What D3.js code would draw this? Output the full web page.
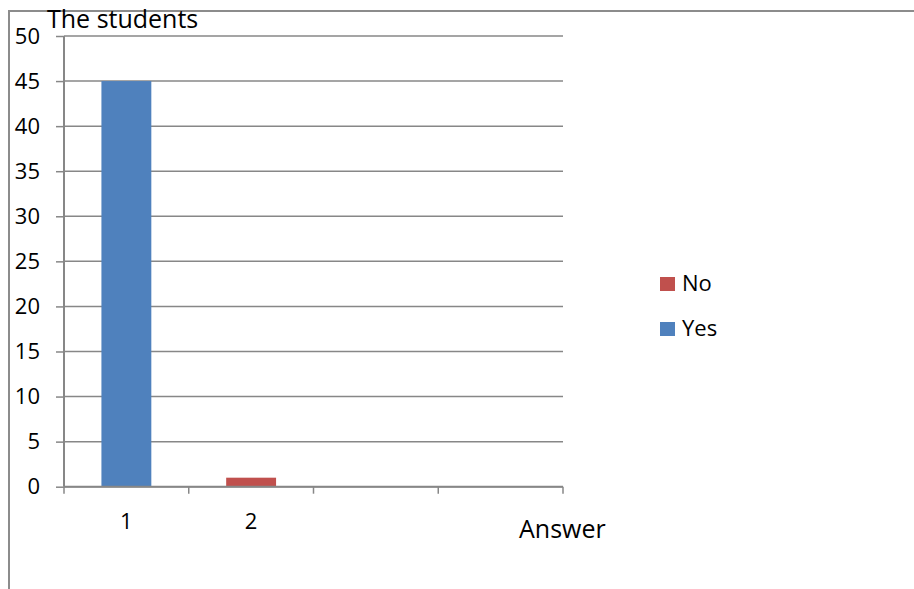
<!DOCTYPE html>
<html>
<head>
<meta charset="utf-8">
<script src="https://cdn.jsdelivr.net/npm/d3@7"></script>
<style>
  html, body { margin: 0; padding: 0; background: #fff; }
  svg { display: block; font-family: "Open Sans", sans-serif; }
</style>
</head>
<body>
<svg id="chart" width="914" height="589"></svg>
<script>
// Survey answers, stacked per category
const categories = ["c1", "c2", "c3", "c4"];
const categoryLabels = ["1", "2", "", ""];
const yesValues = [45, 0, 0, 0];
const noValues = [0, 1, 0, 0];
const yTicks = [0, 5, 10, 15, 20, 25, 30, 35, 40, 45, 50];
const seriesNames = ["Yes", "No"];
const seriesColors = { Yes: "#4F81BD", No: "#C0504D" };

const svg = d3.select("#chart");
const gridColor = "#878787";

const plot = { left: 64, right: 563, top: 36, bottom: 486.7 };

const x = d3.scaleBand().domain(categories).range([plot.left, plot.right]).padding(0);
const y = d3.scaleLinear().domain([0, 50]).range([plot.bottom, plot.top]);

// outer frame (top and left edges)
svg.append("line").attr("x1", 9).attr("x2", 920).attr("y1", 11).attr("y2", 11)
  .attr("stroke", "#8c8c8c").attr("stroke-width", 2);
svg.append("line").attr("x1", 9).attr("x2", 9).attr("y1", 10).attr("y2", 595)
  .attr("stroke", "#8c8c8c").attr("stroke-width", 2);

// horizontal gridlines
svg.append("g").selectAll("line").data(yTicks).join("line")
  .attr("x1", plot.left).attr("x2", plot.right)
  .attr("y1", d => y(d)).attr("y2", d => y(d))
  .attr("stroke", gridColor).attr("stroke-width", 1.5);

// stacked bars
const rows = categories.map((c, i) => ({ cat: c, Yes: yesValues[i], No: noValues[i] }));
const stacked = d3.stack().keys(seriesNames)(rows);
const barW = x.bandwidth() * 0.4;
svg.append("g").selectAll("g").data(stacked).join("g")
  .attr("fill", s => seriesColors[s.key])
  .selectAll("rect").data(s => s.filter(d => d[1] - d[0] > 0)).join("rect")
  .attr("x", d => x(d.data.cat) + (x.bandwidth() - barW) / 2)
  .attr("width", barW)
  .attr("y", d => y(d[1]))
  .attr("height", d => y(d[0]) - y(d[1]));

// y axis
const yAxis = svg.append("g").attr("transform", `translate(${plot.left},0)`)
  .call(d3.axisLeft(y).tickValues(yTicks).tickSize(8).tickPadding(16).tickFormat(d3.format("d")));
yAxis.select(".domain").attr("stroke", gridColor).attr("stroke-width", 2)
  .attr("d", `M0,${plot.top}V${plot.bottom}`);
yAxis.selectAll(".tick line").attr("stroke", gridColor).attr("stroke-width", 1.5);
yAxis.selectAll(".tick text").attr("font-size", 22).attr("fill", "#000")
  .attr("font-family", "'Open Sans', sans-serif");

// x axis with ticks at category boundaries
const edges = categories.map(c => x(c)).concat([plot.right]);
const xg = svg.append("g");
xg.append("line").attr("x1", plot.left).attr("x2", plot.right)
  .attr("y1", plot.bottom).attr("y2", plot.bottom)
  .attr("stroke", gridColor).attr("stroke-width", 2);
xg.selectAll("line.tk").data(edges).join("line").attr("class", "tk")
  .attr("x1", d => d).attr("x2", d => d)
  .attr("y1", plot.bottom).attr("y2", plot.bottom + 7)
  .attr("stroke", gridColor).attr("stroke-width", 1.5);
xg.selectAll("text").data(categories).join("text")
  .attr("x", d => x(d) + x.bandwidth() / 2)
  .attr("y", 529)
  .attr("text-anchor", "middle")
  .attr("font-size", 22)
  .text((d, i) => categoryLabels[i]);

// axis titles
svg.append("text").attr("x", 47).attr("y", 27.5).attr("font-size", 25).text("The students");
svg.append("text").attr("x", 519).attr("y", 537.5).attr("font-size", 25).text("Answer");

// legend (No first, then Yes)
const legendItems = ["No", "Yes"];
const lg = svg.append("g").selectAll("g").data(legendItems).join("g")
  .attr("transform", (d, i) => `translate(660,${277 + i * 45})`);
lg.append("rect").attr("width", 15).attr("height", 14).attr("fill", d => seriesColors[d]);
lg.append("text").attr("x", 22).attr("y", 14).attr("font-size", 22).text(d => d);
</script>
</body>
</html>
